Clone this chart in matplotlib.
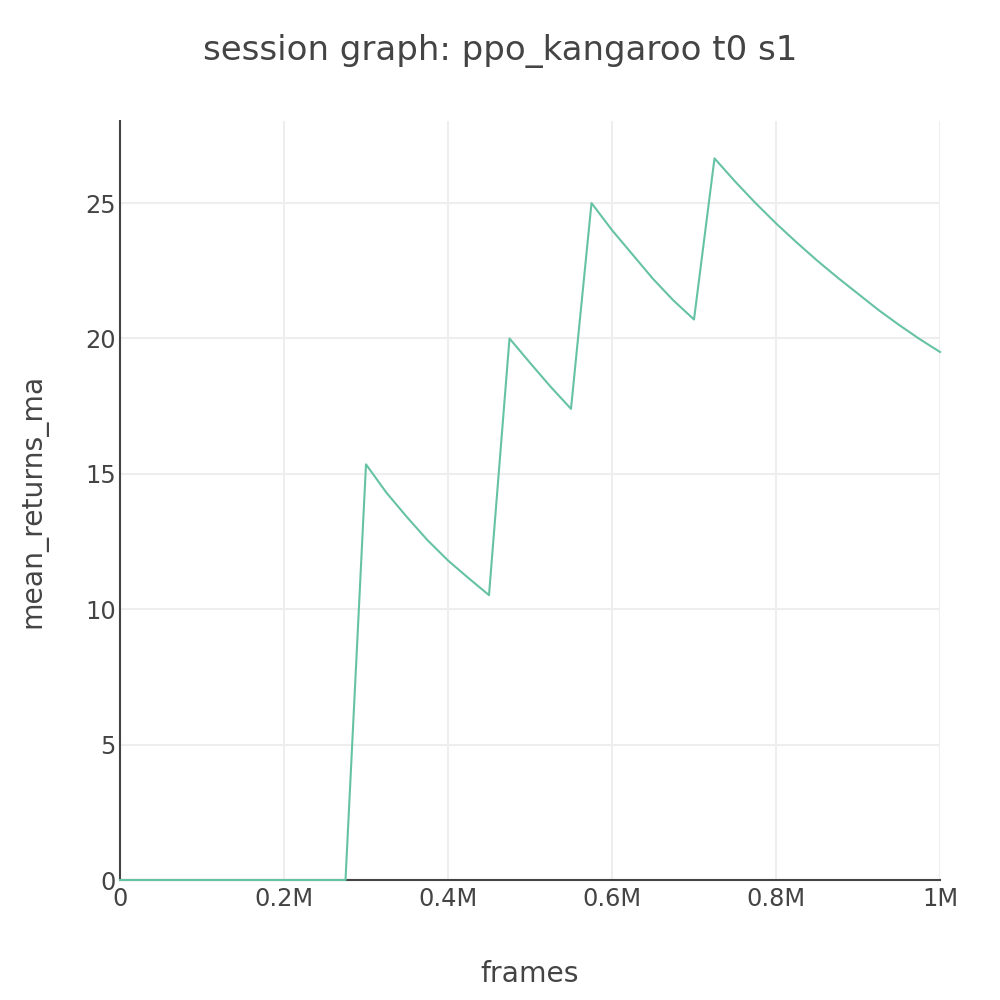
import matplotlib
matplotlib.use('Agg')
import matplotlib.pyplot as plt

# data (frames, mean_returns_ma)
frames = [0, 25000, 50000, 75000, 100000, 125000, 150000, 175000, 200000, 225000, 250000, 275000,
          300000, 325000, 350000, 375000, 400000, 425000, 450000,
          475000, 500000, 525000, 550000,
          575000, 600000, 625000, 650000, 675000, 700000,
          725000, 750000, 775000, 800000, 825000, 850000, 875000, 900000, 925000, 950000, 975000, 1000000]
returns_ma = [0, 0, 0, 0, 0, 0, 0, 0, 0, 0, 0, 0,
              15.35, 14.3, 13.4, 12.55, 11.8, 11.15, 10.52,
              20.0, 19.1, 18.22, 17.4,
              25.0, 24.0, 23.1, 22.2, 21.4, 20.7,
              26.65, 25.8, 25.0, 24.25, 23.55, 22.88, 22.25, 21.65, 21.05, 20.5, 19.98, 19.5]

xtick_vals = [0, 200000, 400000, 600000, 800000, 1000000]
xtick_labels = ['0', '0.2M', '0.4M', '0.6M', '0.8M', '1M']
ytick_vals = [0, 5, 10, 15, 20, 25]

text_color = '#444444'

fig = plt.figure(figsize=(10, 10), dpi=100)
ax = fig.add_axes([0.12, 0.12, 0.82, 0.759])

ax.plot(frames, returns_ma, color='#66c2a5', linewidth=1.5, zorder=3, clip_on=False)

ax.set_xlim(0, 1000000)
ax.set_ylim(0, 28.03)
ax.set_xticks(xtick_vals)
ax.set_xticklabels(xtick_labels)
ax.set_yticks(ytick_vals)

ax.grid(True, color='#eeeeee', linewidth=1.5)
ax.set_axisbelow(True)
for side in ['top', 'right']:
    ax.spines[side].set_visible(False)
for side in ['left', 'bottom']:
    ax.spines[side].set_color(text_color)
    ax.spines[side].set_linewidth(1.5)
    ax.spines[side].set_zorder(2.5)

ax.tick_params(axis='both', length=0, labelsize=17.4, labelcolor=text_color)
ax.tick_params(axis='x', pad=5)
ax.tick_params(axis='y', pad=3)

ax.set_xlabel('frames', fontsize=20.3, color=text_color, labelpad=35)
ax.set_ylabel('mean_returns_ma', fontsize=20.3, color=text_color, labelpad=27)
fig.suptitle('session graph: ppo_kangaroo t0 s1', fontsize=24.5, color=text_color, y=0.966)

plt.savefig('out.png', dpi=100)
